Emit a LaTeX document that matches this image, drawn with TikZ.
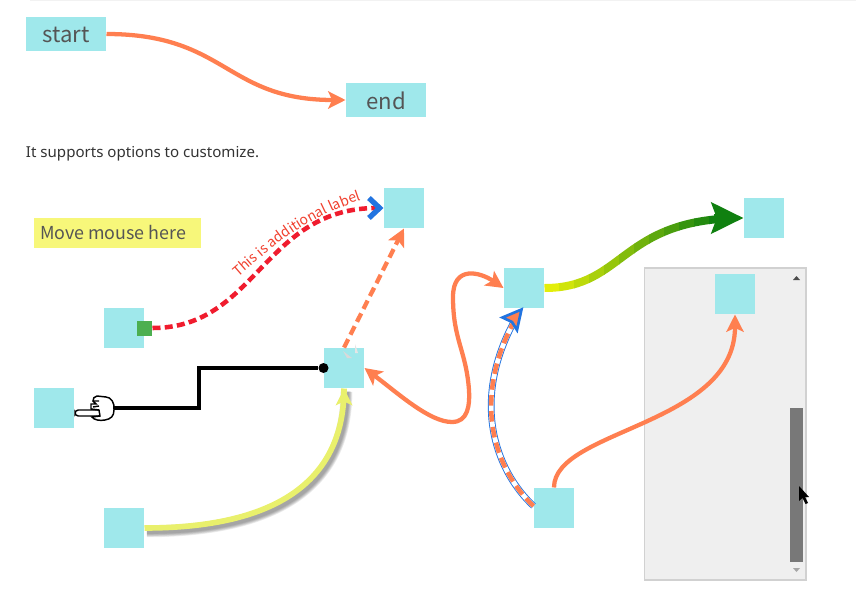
\documentclass[tikz,border=0pt]{standalone}
\usepackage{fontspec}
\setmainfont{Noto Sans}
\newfontfamily\boxfont{Noto Sans CJK JP}
\usetikzlibrary{arrows.meta,decorations.text}

\definecolor{boxcyan}{HTML}{9FE8EB}
\definecolor{boxtext}{HTML}{555555}
\definecolor{linecoral}{HTML}{FF7F50}
\definecolor{linered}{HTML}{F01C2E}
\definecolor{labelred}{HTML}{F0402E}
\definecolor{tipblue}{HTML}{2274E0}
\definecolor{plugreen}{HTML}{4CAF50}
\definecolor{noteyellow}{HTML}{F7F77A}
\definecolor{lineyellow}{HTML}{E9F06C}
\definecolor{gradyellow}{HTML}{E3EE0A}
\definecolor{gradgreen}{HTML}{108010}
\definecolor{panelgray}{HTML}{EFEFEF}

\tikzset{
    every picture/.style={line width=0.75pt},
    sqbox/.style={fill=boxcyan, minimum size=30pt, inner sep=0pt},
    textbox/.style={fill=boxcyan, minimum width=60pt, minimum height=25.5pt, inner sep=0pt, text=boxtext, font=\boxfont\fontsize{16.6}{16.6}\selectfont},
    coral/.style={draw=linecoral, line width=3.2pt},
    smalltip/.tip={Stealth[length=13pt,width=13pt,inset=3pt]},
    bigtip/.tip={Stealth[length=24pt,width=23pt,inset=4pt]},
}

\begin{document}
\begin{tikzpicture}[x=0.75pt, y=-0.75pt]
    \useasboundingbox (0,0) rectangle (856,589);
    \fill[black!5] (30,0) rectangle (856,1);

    % scroll panel
    \node[draw=black!18, line width=0.9pt, fill=panelgray, minimum width=121pt, minimum height=234pt, inner sep=0pt] (panel) at (725.3,424) {};
    \node[fill=black!53, minimum width=9.75pt, minimum height=115.5pt, inner sep=0pt] (thumb) at (796.5,485) {};
    \fill[black!70] (793,280) -- (796.5,276) -- (800,280) -- cycle;
    \fill[black!35] (793,568) -- (796.5,572) -- (800,568) -- cycle;

    % nodes
    \node[textbox, text depth=0pt] (start) at (66,34) {\raisebox{-1.5pt}{start}};
    \node[textbox, text depth=0pt] (end) at (386,100) {\raisebox{-1.5pt}{end}};
    \node[anchor=west, text=black!80, inner sep=0pt, font=\fontsize{11.3}{11.3}\selectfont] (intro) at (25.5,153.5) {It supports options to customize.};
    \node[fill=noteyellow, minimum width=125.25pt, minimum height=22.5pt, inner sep=0pt] (note) at (117.5,233) {};
    \node[anchor=west, inner sep=0pt, text=boxtext, font=\boxfont\fontsize{13.4}{13.4}\selectfont] (notetext) at (39.5,233) {Move mouse here};
    \node[sqbox] (topbox) at (404,208) {};
    \node[sqbox] (redbox) at (124,328) {};
    \node[sqbox] (midbox) at (344,368) {};
    \node[sqbox] (handbox) at (54,408) {};
    \node[sqbox] (shadowbox) at (124,528) {};
    \node[sqbox] (hubbox) at (524,288) {};
    \node[sqbox] (gradbox) at (764,218) {};
    \node[sqbox] (panelbox) at (735,294) {};
    \node[sqbox] (lowbox) at (554,508) {};
    \node[fill=plugreen, minimum size=11.25pt, inner sep=0pt] (plug) at (redbox.east) {};
    \node[circle, fill=black, minimum size=7.5pt, inner sep=0pt] (dot) at (midbox.west) {};
    \coordinate (hand) at (114,408);

    % coral connectors
    \draw[coral, -{smalltip[sep=0pt]}] (start.east) .. controls +(120,0) and +(-120,0) .. (end.west);
    \draw[coral, dash pattern=on 7pt off 3.8pt, -{smalltip}] (midbox.north) -- (topbox.south);
    \fill[black!15] (343,351) -- (352,358) -- (347,358) -- cycle;
    \fill[black!10] (355,344) -- (358,353) -- (355,353) -- cycle;
    \draw[coral, {smalltip}-{smalltip}] (midbox.east) .. controls (400,395) and (430,422) .. (452,422) .. controls (468,422) and (470,405) .. (469,390) .. controls (466,350) and (453,340) .. (453,297) .. controls (453,265) and (480,272) .. (hubbox.west);
    \draw[coral, -{smalltip}] (lowbox.north) .. controls +(0,-58) and +(0,111) .. (panelbox.south);

    % red connector and its label
    \draw[linered, line width=3.4pt, dash pattern=on 6pt off 3.2pt, -{Straight Barb[color=tipblue,length=8pt,width=15pt,line width=4pt,sep=0pt]}] (plug.east) .. controls +(104,0) and +(-120,0) .. (topbox.west);
    \path[decorate, decoration={text along path, text align=center, text={|\boxfont\fontsize{10.5}{10.5}\selectfont\color{labelred}|This is additional label}}] (236,279) .. controls (270,250) and (300,220) .. (364,199);

    % hand connector
    \draw[line width=3.3pt, line join=miter] (hand) -- ++(85,0) |- (dot);
    \begin{scope}[shift={(hand)}, line width=1.1pt]
        \draw[fill=white, rounded corners=2.5pt] (-39,2) rectangle (-12,8);
        \draw[fill=white] (0,2) .. controls (1,-5) and (-3,-11) .. (-8,-11) -- (-17,-12) .. controls (-20,-12) and (-21,-9) .. (-21,-7) -- (-18,-4) -- (-23,-4) -- (-23,1) -- (-15,2) -- (-14,8) -- (-22,9) .. controls (-20,12) and (-14,13) .. (-9,12) .. controls (-3,11) and (0,8) .. (0,2) -- cycle;
        \draw (-20,-7) -- (-15,-7) (-21,-1) -- (-15,-2);
    \end{scope}

    % shadowed connector
    \foreach \w in {9,8,7,6,5,4} {
        \draw[black, opacity=0.07, line width=\w pt, transform canvas={xshift=1.8pt,yshift=-2.4pt}] (shadowbox.east) .. controls +(146,0) and +(0,82) .. (midbox.south);
    }
    \draw[line width=4.2pt, lineyellow] (shadowbox.east) .. controls +(146,0) and +(0,82) .. (midbox.south);
    \fill[lineyellow] (midbox.south) -- ++(8.5,17) -- ++(-8.5,-4) -- ++(-8.5,4) -- cycle;

    % gradient connector
    \def\gradcurve{(hubbox.east) .. controls +(81,0) and +(-124,0) .. (gradbox.west)}
    \foreach \i [evaluate=\i as \p using \i*100/11, evaluate=\i as \xa using 544+\i*15] in {0,...,11} {
        \begin{scope}
            \clip (\xa,150) rectangle (\xa+15.5,340);
            \draw[line width=6pt, color=gradgreen!\p!gradyellow] \gradcurve;
        \end{scope}
    }
    \draw[gradgreen, line width=6pt, -{bigtip[sep=0pt]}] (gradbox.west) ++(-30,0) -- (gradbox.west);

    % striped connector
    \draw[tipblue, line width=5pt] (lowbox.west) ++(0,-2) .. controls (495,470) and (470,400) .. (516,318);
    \draw[white, line width=3.6pt] (lowbox.west) ++(0,-2) .. controls (495,470) and (470,400) .. (516,318);
    \draw[linecoral, line width=3.4pt, dash pattern=on 8pt off 4pt] (lowbox.west) ++(0,-2) .. controls (495,470) and (470,400) .. (516,318);
    \draw[tipblue, line width=2pt, fill=linecoral, line join=miter] (502.5,317.5) -- (521.5,309.5) -- (517,330) -- (512,322) -- cycle;

    % mouse pointer
    \fill (799,486) -- (799,501) -- (802.5,498) -- (805.5,504) -- (808,503) -- (805,497) -- (809,497) -- cycle;
\end{tikzpicture}
\end{document}
